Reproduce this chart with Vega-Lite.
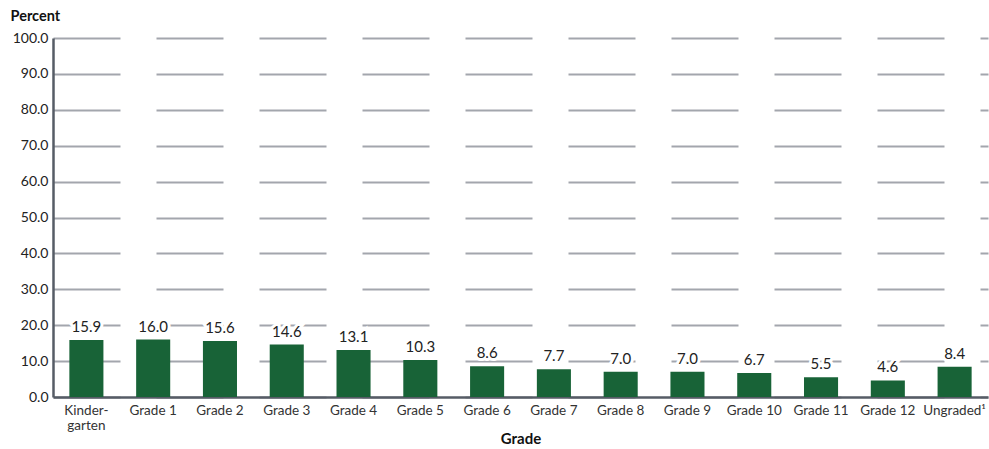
{
  "$schema": "https://vega.github.io/schema/vega-lite/v6.json",
  "width": 935,
  "height": 359,
  "autosize": {"type": "none"},
  "padding": {"left": 53, "top": 38, "right": 1, "bottom": 52},
  "background": "white",
  "config": {
    "font": "Lato",
    "view": {"stroke": null},
    "axis": {"labelFont": "Lato", "titleFont": "Lato"}
  },
  "data": {
    "values": [
      {"grade": "Kindergarten", "pct": 15.9},
      {"grade": "Grade 1", "pct": 16.0},
      {"grade": "Grade 2", "pct": 15.6},
      {"grade": "Grade 3", "pct": 14.6},
      {"grade": "Grade 4", "pct": 13.1},
      {"grade": "Grade 5", "pct": 10.3},
      {"grade": "Grade 6", "pct": 8.6},
      {"grade": "Grade 7", "pct": 7.7},
      {"grade": "Grade 8", "pct": 7.0},
      {"grade": "Grade 9", "pct": 7.0},
      {"grade": "Grade 10", "pct": 6.7},
      {"grade": "Grade 11", "pct": 5.5},
      {"grade": "Grade 12", "pct": 4.6},
      {"grade": "Ungraded¹", "pct": 8.4}
    ]
  },
  "encoding": {
    "x": {
      "field": "grade",
      "type": "nominal",
      "sort": null,
      "scale": {"paddingInner": 0.49, "paddingOuter": 0.245},
      "axis": {
        "title": "Grade",
        "titleFontSize": 15,
        "titleFontWeight": "bold",
        "titleColor": "#111",
        "titleY": 41,
        "titleBaseline": "middle",
        "labelAngle": 0,
        "labelFontSize": 13.5,
        "labelColor": "#333",
        "labelPadding": 6,
        "labelLineHeight": 15,
        "ticks": false,
        "domainColor": "#565c66",
        "domainWidth": 2.5,
        "labelExpr": "datum.value == 'Kindergarten' ? ['Kinder-', 'garten'] : datum.value"
      }
    },
    "y": {
      "field": "pct",
      "type": "quantitative",
      "scale": {"domain": [0, 100]},
      "axis": {
        "title": "Percent",
        "titleAngle": 0,
        "titleAlign": "left",
        "titleBaseline": "middle",
        "titleX": -43,
        "titleY": -22,
        "titleFontSize": 14.5,
        "titleFontWeight": "bold",
        "titleColor": "#111",
        "values": [0, 10, 20, 30, 40, 50, 60, 70, 80, 90, 100],
        "format": ".1f",
        "labelFontSize": 14,
        "labelColor": "#222",
        "labelPadding": 5,
        "ticks": false,
        "domainColor": "#565c66",
        "domainWidth": 2.5,
        "grid": true,
        "gridColor": "#a3a6ad",
        "gridWidth": 2,
        "gridDash": [67, 36]
      }
    }
  },
  "layer": [
    {"mark": {"type": "bar", "color": "#186337"}},
    {
      "mark": {"type": "text", "baseline": "bottom", "dy": -5, "fontSize": 15, "stroke": "white", "strokeWidth": 6, "fill": "white"},
      "encoding": {"text": {"field": "pct", "type": "quantitative", "format": ".1f"}}
    },
    {
      "mark": {"type": "text", "baseline": "bottom", "dy": -5, "fontSize": 15, "color": "#222"},
      "encoding": {"text": {"field": "pct", "type": "quantitative", "format": ".1f"}}
    }
  ]
}
